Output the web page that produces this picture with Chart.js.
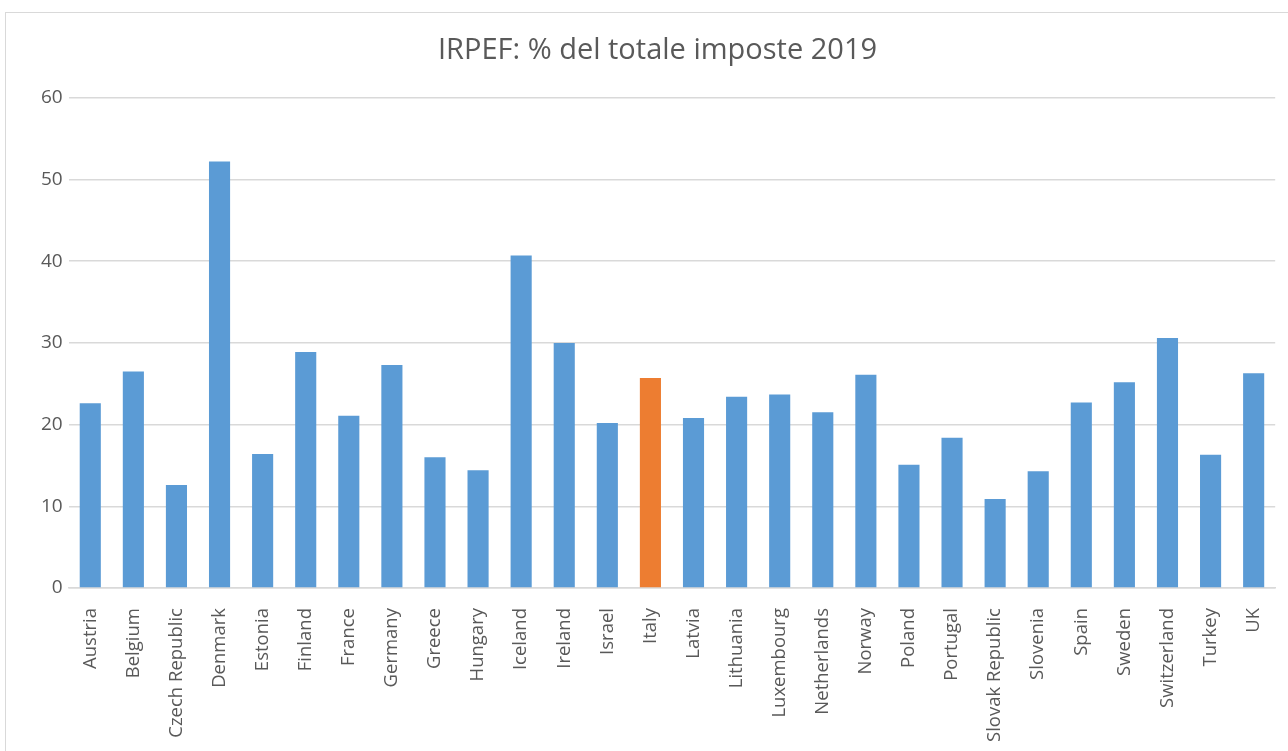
<!DOCTYPE html>
<html>
<head>
<meta charset="utf-8">
<script src="https://cdn.jsdelivr.net/npm/chart.js@4"></script>
<style>
  body { margin: 0; background: #ffffff; overflow: hidden; }
  #frame { position: absolute; left: 5px; top: 12px; width: 1300px; height: 760px; border: 1px solid #d9d9d9; }
  #canvas { position: absolute; left: 0; top: 0; }
</style>
</head>
<body>
<div id="frame"></div>
<canvas id="canvas" width="1288" height="751"></canvas>
<script>
const countries = ["Austria", "Belgium", "Czech Republic", "Denmark", "Estonia", "Finland", "France", "Germany", "Greece", "Hungary", "Iceland", "Ireland", "Israel", "Italy", "Latvia", "Lithuania", "Luxembourg", "Netherlands", "Norway", "Poland", "Portugal", "Slovak Republic", "Slovenia", "Spain", "Sweden", "Switzerland", "Turkey", "UK"];
const irpefShare = [22.6, 26.5, 12.6, 52.2, 16.4, 28.9, 21.1, 27.3, 16.0, 14.4, 40.7, 30.0, 20.2, 25.7, 20.8, 23.4, 23.7, 21.5, 26.1, 15.1, 18.4, 10.9, 14.3, 22.7, 25.2, 30.6, 16.3, 26.3];
const highlight = "Italy";
const yTicks = [0, 10, 20, 30, 40, 50, 60];

function create() {
    const colors = countries.map(c => c === highlight ? '#ED7D31' : '#5B9BD5');
    const data = {
        labels: countries,
        datasets: [{
            label: 'IRPEF',
            data: irpefShare,
            backgroundColor: colors,
            borderWidth: 0,
            barPercentage: 0.49,
            categoryPercentage: 1.0
        }]
    };
    const config = {
        type: 'bar',
        data: data,
        options: {
            responsive: false,
            animation: false,
            layout: { padding: { top: 33, left: 35, right: 8, bottom: -3 } },
            plugins: {
                legend: { display: false },
                tooltip: { enabled: false },
                title: {
                    display: true,
                    text: 'IRPEF: % del totale imposte 2019',
                    color: '#595959',
                    font: { family: 'Open Sans', size: 29, weight: 'normal' },
                    padding: { top: 0, bottom: 30 }
                }
            },
            scales: {
                x: {
                    grid: { display: false },
                    border: { color: '#d9d9d9', width: 1.5 },
                    ticks: {
                        color: '#595959',
                        font: { family: 'Open Sans', size: 18.5 },
                        maxRotation: 90,
                        minRotation: 90,
                        autoSkip: false,
                        padding: 12
                    }
                },
                y: {
                    min: yTicks[0],
                    max: yTicks[yTicks.length - 1],
                    afterBuildTicks: axis => { axis.ticks = yTicks.map(v => ({ value: v })); },
                    grid: { color: '#d9d9d9', lineWidth: 1.5, drawTicks: false },
                    border: { display: false },
                    ticks: {
                        color: '#595959',
                        font: { family: 'Open Sans', size: 19 },
                        padding: 6
                    }
                }
            }
        }
    };

    var canvas = document.getElementById("canvas");
    const chart = new Chart(canvas, config);
}
create();
</script>
</body>
</html>
